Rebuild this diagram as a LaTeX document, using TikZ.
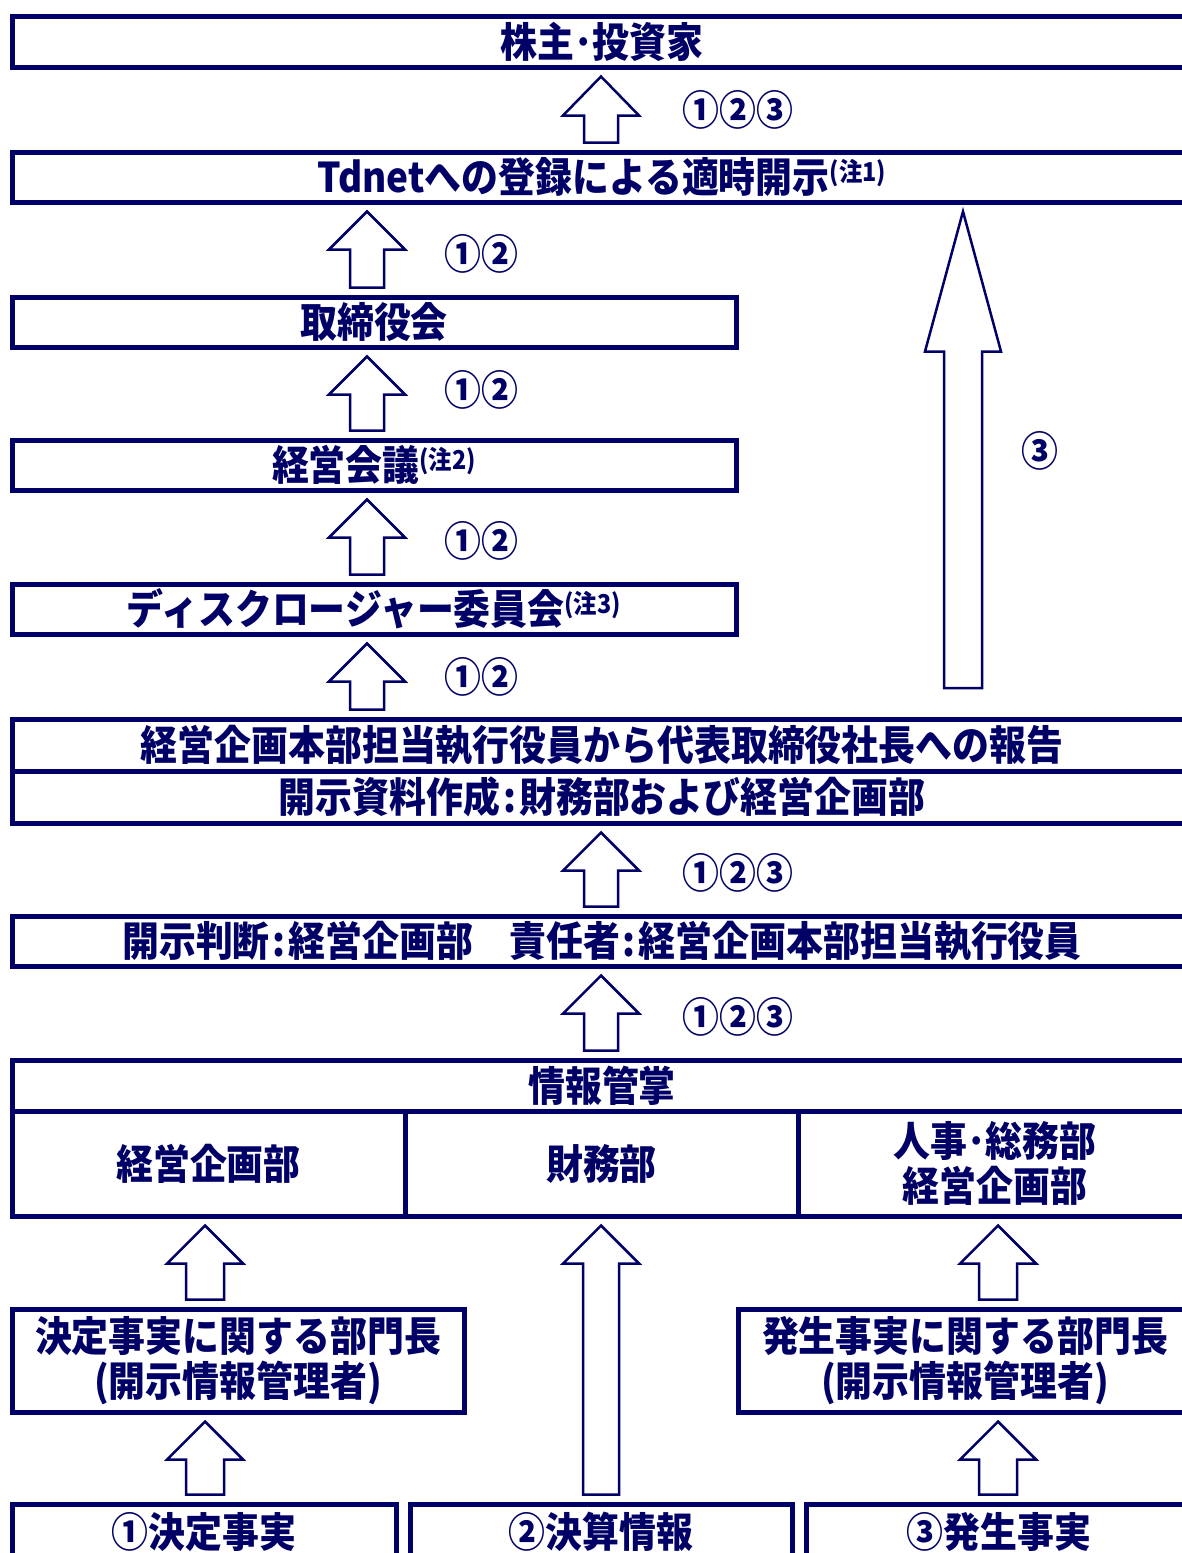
\documentclass[tikz,border=0pt]{standalone}
\usepackage{fontspec}
\setmainfont{Noto Sans CJK JP}[FakeStretch=0.9]
\usetikzlibrary{calc}
\definecolor{nv}{RGB}{0,0,102}
\tikzset{
  box/.style={draw=nv, line width=5pt, text=nv, font=\bfseries\fontsize{41}{45}\selectfont,
    inner sep=0pt, align=center, minimum height=50pt},
  blk/.style={draw=nv, line width=2.5pt, fill=white, line join=miter},
  lbl/.style={text=nv, font=\bfseries\fontsize{41}{41}\selectfont, inner sep=0pt},
  pt/.style={inner sep=0pt, outer sep=0pt, minimum size=0pt}
}
\newcommand\chu[1]{\raisebox{0.28em}{\fontsize{26}{26}\selectfont(注#1)}}
\newcommand\colo{\hspace{3pt}:\hspace{3pt}}
% block arrow from lower node #1 up to upper node #2 at x=#3, head length #4, shaft half width #5
\newcommand\blkup[5]{%
  \draw[blk] let \p1=(#1.north), \p2=(#2.south) in
    (#3pt,\y2-7pt) -- (#3pt+38pt,\y2-7pt-#4pt) -- (#3pt+#5pt,\y2-7pt-#4pt)
    -- (#3pt+#5pt,\y1+7pt) -- (#3pt-#5pt,\y1+7pt) -- (#3pt-#5pt,\y2-7pt-#4pt)
    -- (#3pt-38pt,\y2-7pt-#4pt) -- cycle;}
\begin{document}
\begin{tikzpicture}[x=1pt,y=-1pt]
\useasboundingbox (0,0) rectangle (1182,1553);
% boxes
\node[box, minimum width=1180pt, minimum height=51pt] (inv) at (602,41.5) {株主･投資家};
\node[box, minimum width=1180pt] (tdnet) at (602,177) {Tdnetへの登録による適時開示\chu{1}};
\node[box, minimum width=724pt] (board) at (374,322) {取締役会};
\node[box, minimum width=724pt] (mgmt) at (374,465) {経営会議\chu{2}};
\node[box, minimum width=724pt] (disc) at (374,609) {ディスクロージャー委員会\chu{3}};
\node[box, minimum width=1180pt, minimum height=52pt] (report) at (602,745) {経営企画本部担当執行役員から代表取締役社長への報告};
\node[box, minimum width=1180pt, minimum height=52pt] (prep) at (602,797) {開示資料作成\colo 財務部および経営企画部};
\node[box, minimum width=1180pt] (judge) at (602,941) {開示判断\colo 経営企画部\hspace{36pt}責任者\colo 経営企画本部担当執行役員};
\node[box, minimum width=1180pt, minimum height=51pt] (info) at (602,1085.5) {情報管掌};
\node[box, minimum width=393pt, minimum height=105pt] (kp) at (208.5,1163.5) {経営企画部};
\node[box, minimum width=393pt, minimum height=105pt] (fin) at (601.5,1163.5) {財務部};
\node[box, minimum width=394pt, minimum height=105pt] (hr) at (995,1163.5) {人事･総務部\\経営企画部};
\node[box, minimum width=452pt, minimum height=103pt] (dec) at (238,1360.5) {決定事実に関する部門長\\(開示情報管理者)};
\node[box, minimum width=454pt, minimum height=103pt] (occ) at (965,1360.5) {発生事実に関する部門長\\(開示情報管理者)};
\node[box, minimum width=384pt, minimum height=56pt] (b1) at (204,1532) {①決定事実};
\node[box, minimum width=382pt, minimum height=56pt] (b2) at (601,1532) {②決算情報};
\node[box, minimum width=386pt, minimum height=56pt] (b3) at (999,1532) {③発生事実};
\node[pt] (c3) at (963,695) {};
% arrows
\blkup{tdnet}{inv}{601}{39}{17}
\blkup{board}{tdnet}{367}{38}{17}
\blkup{mgmt}{board}{367}{38}{17}
\blkup{disc}{mgmt}{367}{38}{17}
\blkup{report}{disc}{367}{38}{17}
\blkup{judge}{prep}{601}{38}{17}
\blkup{info}{judge}{601}{38}{17}
\blkup{dec}{kp}{205}{38}{19}
\blkup{b1}{dec}{205}{38}{19}
\blkup{b2}{fin}{601}{38}{18}
\blkup{occ}{hr}{998}{38}{19}
\blkup{b3}{occ}{998}{38}{19}
\blkup{c3}{tdnet}{963}{140}{19}
% labels
\node[lbl] (l1) at (738,110) {①②③};
\node[lbl] (l2) at (481,254) {①②};
\node[lbl] (l3) at (481,390) {①②};
\node[lbl] (l4) at (481,541) {①②};
\node[lbl] (l5) at (481,677) {①②};
\node[lbl] (l6) at (738,873) {①②③};
\node[lbl] (l7) at (738,1017) {①②③};
\node[lbl] (l8) at (1040,451) {③};
\end{tikzpicture}
\end{document}
